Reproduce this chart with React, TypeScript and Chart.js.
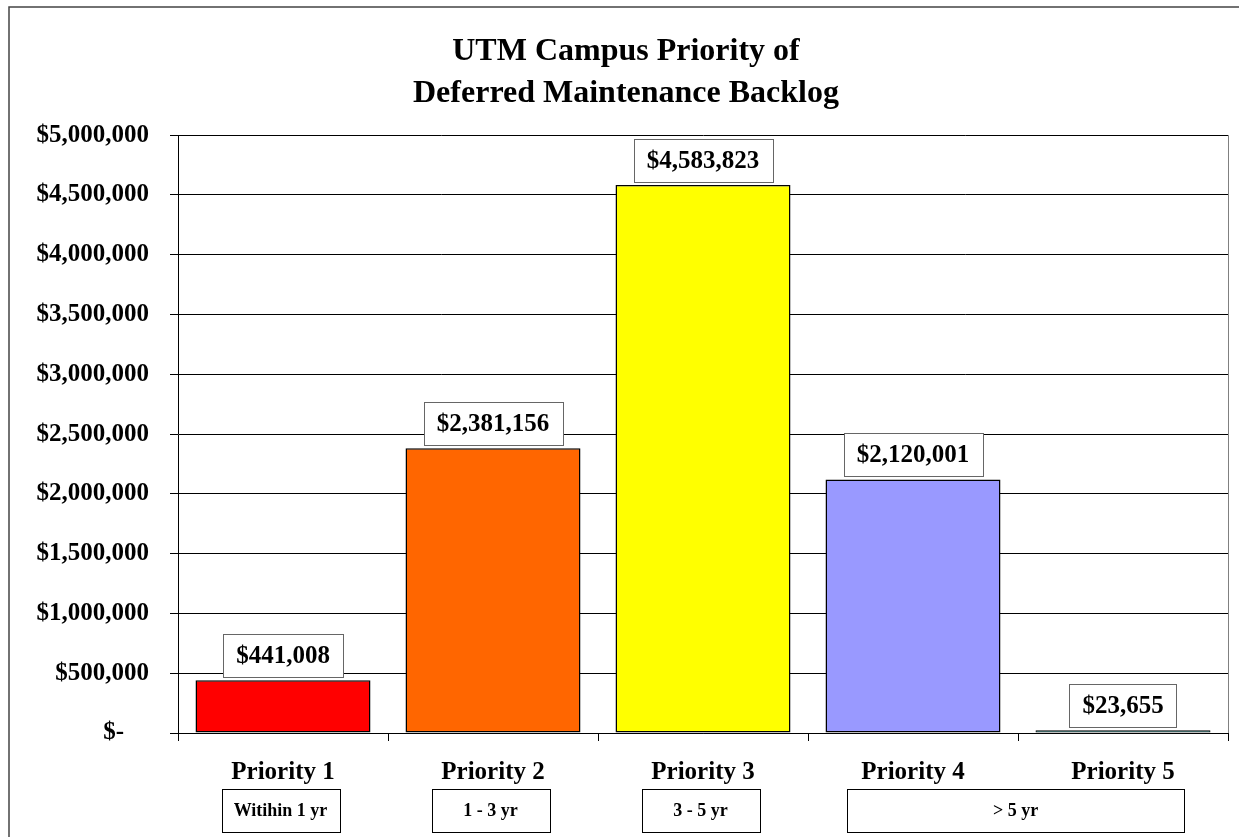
import React, { useEffect, useRef } from 'react';
import { Chart, registerables } from 'chart.js';

Chart.register(...registerables);

const titleLines = ['UTM Campus Priority of', 'Deferred Maintenance Backlog'];
const categories = ['Priority 1', 'Priority 2', 'Priority 3', 'Priority 4', 'Priority 5'];
const values = [441008, 2381156, 4583823, 2120001, 23655];
const barColors = ['#FF0000', '#FF6600', '#FFFF00', '#9999FF', '#33CCCC'];
const timeframeLabels = ['Witihin 1 yr', '1 - 3 yr', '3 - 5 yr', '> 5 yr'];
const timeframeStart = [0, 1, 2, 3];
const timeframeEnd = [0, 1, 2, 4];
const yMin = 0;
const yMax = 5000000;
const yStep = 500000;

const FONT = '"Liberation Serif", "Times New Roman", Times, serif';

const fmtMoney = (v: number) => (v === 0 ? '$-' + '\u00a0'.repeat(4) : '$' + Math.round(v).toLocaleString('en-US'));

const framePlugin = {
  id: 'frame',
  afterDraw(chart: any) {
    const ctx = chart.ctx;
    ctx.save();
    ctx.strokeStyle = '#444';
    ctx.lineWidth = 1.5;
    ctx.strokeRect(9, 7, chart.width + 20, chart.height + 20);
    ctx.restore();
  },
};

const plotBorderPlugin = {
  id: 'plotBorder',
  beforeDatasetsDraw(chart: any) {
    const { ctx, chartArea } = chart;
    ctx.save();
    ctx.strokeStyle = '#808080';
    ctx.lineWidth = 1;
    const x = Math.round(chartArea.right) + 0.5;
    ctx.beginPath();
    ctx.moveTo(x, chartArea.top);
    ctx.lineTo(x, chartArea.bottom);
    ctx.stroke();
    ctx.restore();
  },
};

const valueLabelPlugin = {
  id: 'valueLabels',
  afterDatasetsDraw(chart: any) {
    const ctx = chart.ctx;
    const meta = chart.getDatasetMeta(0);
    ctx.save();
    ctx.font = `bold 25px ${FONT}`;
    ctx.textAlign = 'center';
    ctx.textBaseline = 'middle';
    meta.data.forEach((el: any, i: number) => {
      const txt = fmtMoney(values[i]);
      const w = ctx.measureText(txt).width + 26;
      const h = 43;
      const bottom = el.y - 3;
      const left = Math.round(el.x - w / 2) + 0.5;
      const top = Math.round(bottom - h) + 0.5;
      ctx.fillStyle = '#fff';
      ctx.fillRect(left, top, w, h);
      ctx.strokeStyle = '#666';
      ctx.lineWidth = 1;
      ctx.strokeRect(left, top, Math.round(w), h);
      ctx.fillStyle = '#000';
      ctx.fillText(txt, el.x, top + h / 2 + 1);
    });
    ctx.restore();
  },
};

const timeframePlugin = {
  id: 'timeframes',
  afterDraw(chart: any) {
    const ctx = chart.ctx;
    const xs = chart.scales.x;
    ctx.save();
    ctx.font = `bold 18px ${FONT}`;
    ctx.textAlign = 'center';
    ctx.textBaseline = 'middle';
    timeframeLabels.forEach((lab, i) => {
      const c0 = xs.getPixelForValue(timeframeStart[i]);
      const c1 = xs.getPixelForValue(timeframeEnd[i]);
      const w = 118 + (c1 - c0) + (c1 > c0 ? 9 : 0);
      const cx = (c0 + c1) / 2 - 2.5;
      const left = Math.round(cx - w / 2) + 0.5;
      const top = 789.5;
      const h = 43;
      ctx.fillStyle = '#fff';
      ctx.fillRect(left, top, w, h);
      ctx.strokeStyle = '#000';
      ctx.lineWidth = 1;
      ctx.strokeRect(left, top, Math.round(w), h);
      ctx.fillStyle = '#000';
      ctx.fillText(lab, cx, top + h / 2);
    });
    ctx.restore();
  },
};

export default function App() {
  const ref = useRef<HTMLCanvasElement | null>(null);
  useEffect(() => {
    if (!ref.current) return;
    const chart = new Chart(ref.current, {
      type: 'bar',
      data: {
        labels: categories,
        datasets: [
          {
            data: values,
            backgroundColor: barColors,
            borderColor: '#000',
            borderWidth: [1.5, 1.5, 1.5, 1.5, 1],
            borderSkipped: false,
            categoryPercentage: 1 / 1.2,
            barPercentage: 1,
          },
        ],
      },
      options: {
        responsive: false,
        animation: false,
        devicePixelRatio: 1,
        layout: { padding: { left: 24, right: 11, top: 0, bottom: 0 } },
        plugins: {
          legend: { display: false },
          tooltip: { enabled: false },
          title: {
            display: true,
            text: titleLines,
            color: '#000',
            font: { family: FONT, size: 32, weight: 'bold', lineHeight: 1.33 },
            padding: { top: 30, bottom: 20 },
          },
        },
        scales: {
          x: {
            offset: true,
            grid: {
              display: true,
              drawOnChartArea: false,
              drawTicks: true,
              tickLength: 8,
              color: '#000',
              offset: true,
            },
            border: { display: true, color: '#000', width: 1 },
            ticks: {
              color: '#000',
              font: { family: FONT, size: 25, weight: 'bold' },
              padding: 17,
              maxRotation: 0,
              autoSkip: false,
            },
            afterFit: (s: any) => {
              s.height = 104;
            },
          },
          y: {
            min: yMin,
            max: yMax,
            grid: { color: '#000', lineWidth: 1, drawTicks: true, tickLength: 8 },
            border: { display: true, color: '#000', width: 1 },
            ticks: {
              stepSize: yStep,
              color: '#000',
              font: { family: FONT, size: 25, weight: 'bold' },
              padding: 21,
              callback: (v: any) => fmtMoney(Number(v)),
            },
            afterFit: (s: any) => {
              s.width = 154;
            },
          },
        },
      },
      plugins: [plotBorderPlugin, valueLabelPlugin, timeframePlugin, framePlugin],
    } as any);
    return () => chart.destroy();
  }, []);
  return (
    <div style={{ position: 'absolute', left: 0, top: 0, width: 1239, height: 837, background: '#fff' }}>
      <canvas ref={ref} width={1239} height={837} style={{ display: 'block' }} />
    </div>
  );
}
